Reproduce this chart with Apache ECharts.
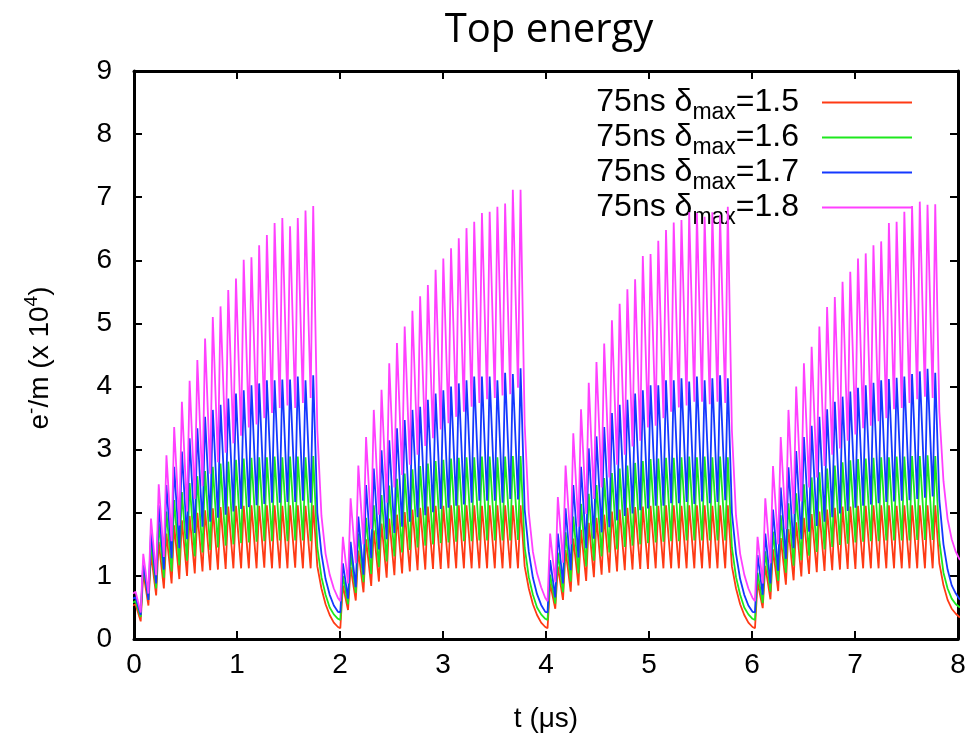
<!DOCTYPE html>
<html>
<head>
<meta charset="utf-8">
<script src="https://cdn.jsdelivr.net/npm/echarts@6/dist/echarts.min.js"></script>
<style>html,body{margin:0;padding:0;background:#fff}#chart{width:974px;height:743px}</style>
</head>
<body>
<div id="chart"></div>
<script>
// ---- data ----
const seriesNames = ['1.5', '1.6', '1.7', '1.8'];
const seriesColors = ['#ff3a14', '#1ee81e', '#1438ff', '#ff40ff'];
const xTicks = [0, 1, 2, 3, 4, 5, 6, 7, 8];
const yTicks = [0, 1, 2, 3, 4, 5, 6, 7, 8, 9];

// time (µs) of the first bunch peak of each train, bunch spacing, rise time, tail sample offsets
const trainStart = [0.015, 2.028, 4.040, 6.054];
const bunchSpacing = 0.075;
const riseTime = 0.025;
const tailOffsets = [0.04, 0.08, 0.12, 0.16, 0.20, 0.24];

// δmax = 1.5 (red)
const redPeaks = [
  [0.55,1.06,1.35,1.54,1.67,1.80,1.88,1.95,2.00,2.04,2.07,2.09,2.10,2.11,2.11,2.12,2.11,2.12,2.12,2.11,2.12,2.12,2.11,2.12],
  [0.85,1.14,1.40,1.58,1.72,1.83,1.91,1.97,2.01,2.05,2.08,2.10,2.11,2.11,2.12,2.12,2.12,2.12,2.11,2.12,2.12,2.12,2.12,2.12],
  [0.88,1.15,1.41,1.59,1.73,1.84,1.92,1.97,2.02,2.05,2.08,2.09,2.10,2.11,2.11,2.12,2.12,2.11,2.12,2.12,2.12,2.11,2.12,2.12],
  [0.90,1.16,1.42,1.60,1.74,1.85,1.92,1.98,2.02,2.05,2.08,2.10,2.10,2.11,2.11,2.12,2.12,2.12,2.11,2.12,2.12,2.12,2.12,2.12]
];
const redTroughs = [
  [0.53,0.28,0.53,0.69,0.80,0.88,0.95,1.00,1.04,1.07,1.09,1.10,1.11,1.12,1.12,1.12,1.12,1.13,1.12,1.12,1.12,1.13,1.12,1.12],
  [0.17,0.46,0.61,0.74,0.84,0.91,0.97,1.01,1.04,1.07,1.09,1.10,1.11,1.11,1.12,1.12,1.12,1.12,1.12,1.12,1.12,1.12,1.12,1.12],
  [0.17,0.48,0.62,0.75,0.85,0.92,0.98,1.02,1.05,1.07,1.09,1.10,1.11,1.11,1.12,1.12,1.12,1.12,1.12,1.12,1.12,1.12,1.12,1.12],
  [0.17,0.49,0.63,0.76,0.86,0.93,0.99,1.03,1.06,1.08,1.09,1.10,1.11,1.11,1.12,1.12,1.12,1.12,1.12,1.12,1.12,1.12,1.12,1.12]
];
const redTails = [
  [1.15,0.80,0.55,0.38,0.26,0.19],
  [1.15,0.80,0.55,0.38,0.26,0.19],
  [1.15,0.80,0.55,0.38,0.26,0.19],
  [1.20,0.85,0.62,0.48,0.40,0.34]
];

// δmax = 1.6 (green)
const greenPeaks = [
  [0.60,1.18,1.52,1.83,2.02,2.20,2.33,2.47,2.58,2.66,2.73,2.78,2.81,2.84,2.86,2.87,2.88,2.88,2.89,2.88,2.89,2.89,2.88,2.90],
  [1.00,1.35,1.67,1.92,2.12,2.28,2.43,2.54,2.62,2.69,2.74,2.78,2.82,2.84,2.86,2.87,2.88,2.88,2.89,2.89,2.88,2.89,2.90,2.90],
  [1.02,1.37,1.69,1.94,2.14,2.30,2.44,2.55,2.63,2.70,2.75,2.79,2.82,2.85,2.86,2.87,2.87,2.88,2.89,2.88,2.89,2.88,2.89,2.88],
  [1.05,1.39,1.70,1.96,2.15,2.31,2.45,2.56,2.64,2.70,2.75,2.80,2.83,2.85,2.86,2.87,2.88,2.88,2.89,2.89,2.90,2.90,2.91,2.90]
];
const greenTroughs = [
  [0.58,0.35,0.62,0.80,0.97,1.07,1.17,1.24,1.31,1.37,1.41,1.45,1.48,1.50,1.52,1.53,1.54,1.55,1.55,1.56,1.55,1.56,1.56,1.55],
  [0.30,0.55,0.73,0.90,1.03,1.14,1.23,1.31,1.37,1.41,1.45,1.48,1.50,1.52,1.53,1.54,1.55,1.55,1.56,1.56,1.56,1.56,1.56,1.57],
  [0.30,0.56,0.74,0.91,1.04,1.15,1.24,1.31,1.37,1.42,1.46,1.48,1.50,1.52,1.53,1.54,1.55,1.55,1.56,1.56,1.56,1.56,1.56,1.56],
  [0.30,0.57,0.75,0.92,1.05,1.16,1.25,1.32,1.38,1.42,1.46,1.49,1.51,1.53,1.54,1.55,1.55,1.56,1.56,1.56,1.56,1.57,1.57,1.57]
];
const greenTails = [
  [1.45,0.98,0.70,0.50,0.39,0.32],
  [1.45,0.98,0.70,0.50,0.39,0.32],
  [1.45,0.98,0.70,0.50,0.39,0.32],
  [1.55,1.05,0.80,0.64,0.55,0.50]
];

// δmax = 1.7 (blue)
const bluePeaks = [
  [0.66,1.22,1.70,2.12,2.44,2.73,2.97,3.18,3.34,3.52,3.63,3.71,3.81,3.89,3.94,4.02,4.05,4.10,4.10,4.11,4.11,4.16,4.10,4.18],
  [1.20,1.54,1.94,2.44,2.70,2.99,3.15,3.34,3.47,3.63,3.68,3.79,3.89,3.94,4.00,4.05,4.10,4.16,4.16,4.16,4.10,4.22,4.20,4.29],
  [1.25,1.67,2.07,2.44,2.73,3.02,3.21,3.36,3.58,3.71,3.79,3.89,3.94,4.02,4.02,4.10,4.10,4.13,4.08,4.16,4.10,4.13,4.18,4.13],
  [1.33,1.67,2.05,2.40,2.72,2.98,3.20,3.38,3.52,3.64,3.76,3.84,3.92,3.98,4.02,4.06,4.10,4.12,4.14,4.16,4.20,4.24,4.28,4.22]
];
const blueTroughs = [
  [0.64,0.38,0.62,0.88,1.10,1.28,1.44,1.58,1.68,1.78,1.86,1.92,1.97,2.02,2.06,2.09,2.12,2.14,2.16,2.16,2.17,2.17,2.19,2.16],
  [0.42,0.64,0.82,1.02,1.28,1.42,1.58,1.68,1.78,1.86,1.93,1.96,2.01,2.06,2.08,2.11,2.13,2.16,2.19,2.19,2.19,2.16,2.22,2.21],
  [0.42,0.66,0.88,1.09,1.29,1.44,1.59,1.69,1.77,1.88,1.95,1.99,2.04,2.07,2.11,2.11,2.15,2.15,2.17,2.14,2.18,2.15,2.17,2.20],
  [0.42,0.70,0.88,1.08,1.27,1.44,1.58,1.70,1.79,1.86,1.93,1.99,2.03,2.08,2.11,2.13,2.15,2.17,2.18,2.19,2.20,2.22,2.24,2.26]
];
const blueTails = [
  [2.00,1.35,0.95,0.70,0.53,0.43],
  [2.05,1.38,0.97,0.71,0.54,0.43],
  [2.00,1.35,0.95,0.70,0.53,0.43],
  [2.20,1.50,1.10,0.85,0.72,0.62]
];

// δmax = 1.8 (magenta)
const pinkPeaks = [
  [0.75,1.35,1.91,2.45,2.91,3.36,3.76,4.09,4.42,4.76,5.10,5.27,5.53,5.71,6.01,6.05,6.24,6.40,6.59,6.67,6.54,6.67,6.79,6.86],
  [1.62,2.23,2.75,3.20,3.63,3.95,4.37,4.69,4.95,5.20,5.43,5.61,5.85,6.03,6.19,6.35,6.51,6.61,6.75,6.77,6.85,6.90,7.12,7.12],
  [1.67,2.25,2.75,3.26,3.64,4.06,4.39,4.68,5.05,5.31,5.54,5.70,6.07,6.10,6.31,6.48,6.60,6.64,6.76,6.75,6.69,6.76,6.72,6.85],
  [1.62,2.23,2.74,3.20,3.63,4.00,4.37,4.63,4.95,5.26,5.42,5.66,5.82,6.03,6.11,6.24,6.30,6.59,6.61,6.77,6.86,6.93,6.88,6.89]
];
const pinkTroughs = [
  [0.72,0.42,0.72,1.01,1.30,1.55,1.80,2.02,2.22,2.42,2.62,2.80,2.95,3.10,3.22,3.35,3.40,3.50,3.58,3.66,3.70,3.66,3.74,3.82],
  [0.60,0.88,1.20,1.50,1.74,1.97,2.16,2.40,2.60,2.76,2.92,3.06,3.18,3.32,3.42,3.52,3.60,3.68,3.74,3.80,3.82,3.86,3.88,3.98],
  [0.60,0.90,1.21,1.50,1.78,1.98,2.22,2.40,2.56,2.76,2.92,3.05,3.14,3.35,3.38,3.50,3.60,3.67,3.70,3.76,3.76,3.72,3.76,3.74],
  [0.60,0.88,1.20,1.50,1.74,1.98,2.18,2.40,2.56,2.74,2.92,3.02,3.14,3.24,3.34,3.38,3.45,3.50,3.64,3.66,3.74,3.80,3.84,3.82]
];
const pinkTails = [
  [3.30,1.95,1.35,1.02,0.80,0.65],
  [3.40,2.00,1.38,1.04,0.82,0.65],
  [3.30,1.95,1.35,1.02,0.80,0.65],
  [3.60,2.50,1.90,1.58,1.38,1.25]
];

// ---- build [t, value] series ----
function buildLine(peaks, troughs, tails) {
  const pts = [];
  for (let i = 0; i < trainStart.length; i++) {
    const n = peaks[i].length;
    for (let k = 0; k < n; k++) {
      const tp = trainStart[i] + k * bunchSpacing;
      pts.push([tp - riseTime, troughs[i][k]]);
      pts.push([tp, peaks[i][k]]);
    }
    const tLast = trainStart[i] + (n - 1) * bunchSpacing;
    for (let j = 0; j < tails[i].length; j++) {
      pts.push([tLast + tailOffsets[j], tails[i][j]]);
    }
  }
  return pts;
}

const lines = [
  buildLine(redPeaks, redTroughs, redTails),
  buildLine(greenPeaks, greenTroughs, greenTails),
  buildLine(bluePeaks, blueTroughs, blueTails),
  buildLine(pinkPeaks, pinkTroughs, pinkTails)
];

const FONT = 'Liberation Sans';
const chart = echarts.init(document.getElementById('chart'), null, {renderer: 'canvas'});

const axisCommon = {
  axisLine: {show: true, onZero: false, lineStyle: {color: '#000', width: 3}},
  axisTick: {show: true, inside: true, length: 8, lineStyle: {color: '#000', width: 2}},
  splitLine: {show: false}
};

const option = {
  backgroundColor: '#fff',
  animation: false,
  title: {
    text: 'Top energy',
    left: 544,
    top: 6,
    textAlign: 'center',
    textStyle: {fontFamily: 'Open Sans', fontWeight: 'normal', fontSize: 40, color: '#000'}
  },
  legend: {
    orient: 'vertical',
    right: 57,
    top: 76,
    align: 'right',
    icon: 'rect',
    itemWidth: 90,
    itemHeight: 2,
    itemGap: -8,
    selectedMode: false,
    data: seriesNames.map(n => '75ns δmax=' + n),
    formatter: function (name) {
      const v = name.split('=')[1];
      return '{m|75ns δ}{s|max}{m|=' + v + '}';
    },
    textStyle: {
      fontFamily: FONT,
      color: '#000',
      padding: [0, 18, 0, 0],
      rich: {
        m: {fontFamily: FONT, fontSize: 32, lineHeight: 32, color: '#000'},
        s: {fontFamily: FONT, fontSize: 23, lineHeight: 22, color: '#000', padding: [20, 0, 0, 0]}
      }
    }
  },
  grid: {left: 134, right: 16, top: 71, bottom: 104, containLabel: false},
  xAxis: [
    Object.assign({}, axisCommon, {
      type: 'value', min: xTicks[0], max: xTicks[xTicks.length - 1], interval: 1,
      position: 'bottom',
      name: 't (μs)', nameLocation: 'middle', nameGap: 66,
      nameTextStyle: {fontFamily: FONT, fontSize: 28, color: '#000'},
      axisLabel: {fontFamily: FONT, fontSize: 28, color: '#000', margin: 12}
    }),
    Object.assign({}, axisCommon, {
      type: 'value', min: xTicks[0], max: xTicks[xTicks.length - 1], interval: 1,
      position: 'top', axisLabel: {show: false}
    })
  ],
  yAxis: [
    Object.assign({}, axisCommon, {
      type: 'value', min: yTicks[0], max: yTicks[yTicks.length - 1], interval: 1,
      position: 'left',
      axisLabel: {fontFamily: FONT, fontSize: 28, color: '#000', margin: 22}
    }),
    Object.assign({}, axisCommon, {
      type: 'value', min: yTicks[0], max: yTicks[yTicks.length - 1], interval: 1,
      position: 'right', axisLabel: {show: false}
    })
  ],
  graphic: [{
    type: 'text',
    x: 40,
    y: 358,
    rotation: Math.PI / 2,
    style: {
      text: '{m|e}{p|-}{m|/m (x 10}{p|4}{m|)}',
      textAlign: 'center',
      textVerticalAlign: 'middle',
      fill: '#000',
      rich: {
        m: {fontFamily: FONT, fontSize: 28, lineHeight: 28, fill: '#000'},
        p: {fontFamily: FONT, fontSize: 19, lineHeight: 19, fill: '#000', padding: [0, 0, 16, 0]}
      }
    }
  }],
  series: lines.map((d, i) => ({
    name: '75ns δmax=' + seriesNames[i],
    type: 'line',
    data: d,
    showSymbol: false,
    symbol: 'none',
    clip: true,
    lineStyle: {color: seriesColors[i], width: 1.8},
    itemStyle: {color: seriesColors[i]},
    z: 2 + i
  }))
};
chart.setOption(option);
</script>
</body>
</html>
